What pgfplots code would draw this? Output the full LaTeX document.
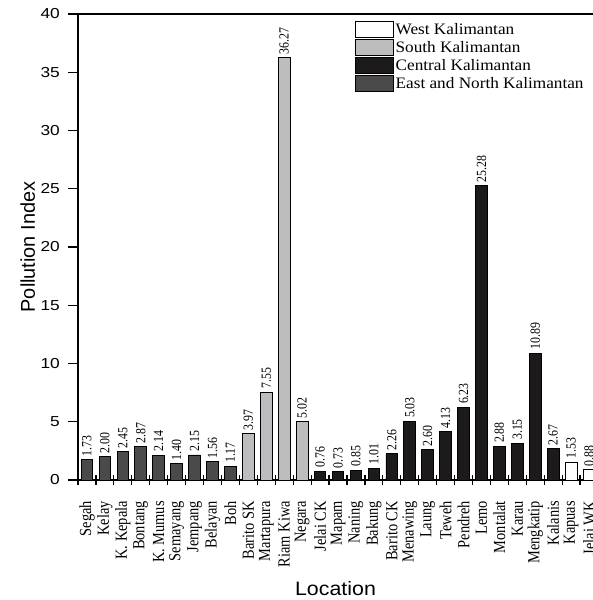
\documentclass[border=0pt]{standalone}
\usepackage{pgfplots}
\pgfplotsset{compat=1.18}
\usepackage{fontspec}
\setmainfont{Liberation Serif}
\newfontfamily\legfont[FakeStretch=1.08]{Liberation Serif}
\newfontfamily\rotfont[FakeStretch=0.85]{Liberation Serif}
\newfontfamily\numfont[FakeStretch=1.2]{Liberation Sans}
\newfontfamily\labfont[FakeStretch=1.1]{Liberation Sans}
\newfontfamily\sansfont{Liberation Sans}
\definecolor{eastc}{HTML}{4A4A4A}
\definecolor{southc}{HTML}{BDBDC0}
\definecolor{centralc}{HTML}{1C1A1B}
\pgfplotsset{
  boxlegend/.style={legend image code/.code={\draw[##1,draw=black,line width=0.9bp] (0bp,-8bp) rectangle (38bp,8bp);}}
}
\begin{document}
\begin{tikzpicture}
\begin{axis}[
  name=ax, scale only axis, width=515bp, height=466bp,
  xmin=-0.5, xmax=28.22, ymin=0, ymax=40,
  axis x line*=box, axis y line*=left,
  axis line style={-, line width=1.5bp, black},
  xtick pos=bottom, ytick pos=left,
  ybar, bar width=0.65, bar shift=0pt,
  xtick={0,...,28},
  xticklabels={Segah,Kelay,K. Kepala,Bontang,K. Mumus,Semayang,Jempang,Belayan,Boh,Barito SK,Martapura,Riam Kiwa,Negara,Jelai CK,Mapam,Naning,Bakung,Barito CK,Menawing,Laung,Teweh,Pendreh,Lemo,Montalat,Karau,Mengkatip,Kalanis,Kapuas,Jelai WK},
  major x tick style={draw=none},
  minor xtick={-0.5,0.5,...,28.5},
  minor x tick style={black, line width=1.2bp},
  xtick align=center, minor tick length=10bp,
  ytick={0,5,...,40},
  ytick align=outside, major tick length=10bp,
  major y tick style={black, line width=1.2bp},
  xticklabel style={rotate=90, anchor=east, inner sep=0pt, font=\rotfont\fontsize{17}{18}\selectfont},
  xticklabel shift=16bp,
  yticklabel style={inner sep=0pt, font=\numfont\fontsize{14.5}{15}\selectfont},
  yticklabel shift=8bp,
  /pgf/number format/assume math mode=true,
  xlabel={Location}, ylabel={Pollution Index},
  every axis x label/.style={at={(axis description cs:0.5,-0.2468)}, anchor=base, font=\labfont\fontsize{19.5}{20}\selectfont},
  every axis y label/.style={at={(axis description cs:-0.0835,0.5)}, rotate=90, anchor=base, font=\sansfont\fontsize{20}{21}\selectfont},
  nodes near coords={\pgfmathprintnumber[fixed,fixed zerofill,precision=2]{\pgfplotspointmeta}},
  every node near coord/.append style={rotate=90, anchor=west, inner sep=3bp, font=\rotfont\fontsize{14}{15}\selectfont},
  legend style={at={(axis description cs:0.538,0.985)}, anchor=north west, draw=none, fill=none,
    font=\legfont\fontsize{16}{17}\selectfont, inner sep=0pt, row sep=1.2bp,
    nodes={inner sep=1.5bp}},
  legend cell align=left,
  clip=true,
]
\addplot[fill=white, draw=black, line width=0.9bp, boxlegend] coordinates {(27,1.53) (28,0.88)};
\addlegendentry{West Kalimantan}
\addplot[fill=southc, draw=black, line width=0.9bp, boxlegend] coordinates {(9,3.97) (10,7.55) (11,36.27) (12,5.02)};
\addlegendentry{South Kalimantan}
\addplot[fill=centralc, draw=black, line width=0.9bp, boxlegend] coordinates {(13,0.76) (14,0.73) (15,0.85) (16,1.01) (17,2.26) (18,5.03) (19,2.60) (20,4.13) (21,6.23) (22,25.28) (23,2.88) (24,3.15) (25,10.89) (26,2.67)};
\addlegendentry{Central Kalimantan}
\addplot[fill=eastc, draw=black, line width=0.9bp, boxlegend] coordinates {(0,1.73) (1,2.00) (2,2.45) (3,2.87) (4,2.14) (5,1.40) (6,2.15) (7,1.56) (8,1.17)};
\addlegendentry{East and North Kalimantan}
\end{axis}
\pgfresetboundingbox
\useasboundingbox ([xshift=-78bp,yshift=-120bp]ax.south west) rectangle ([yshift=14bp]ax.north east);
\end{tikzpicture}
\end{document}
